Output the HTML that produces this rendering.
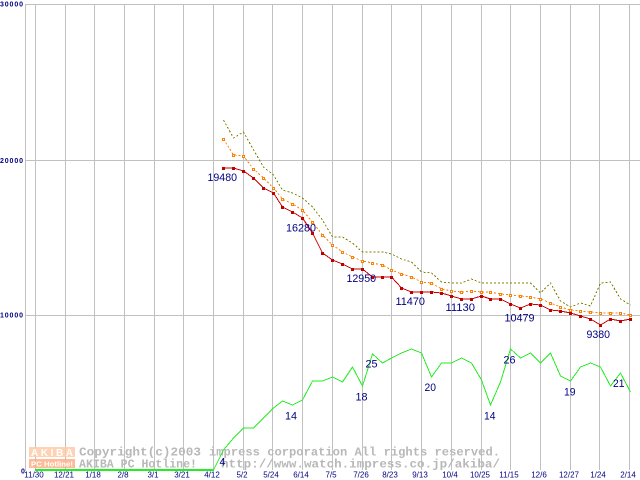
<!DOCTYPE html>
<html><head><meta charset="utf-8"><style>
html,body{margin:0;padding:0;background:#fff;width:640px;height:480px;overflow:hidden}
svg{display:block}
</style></head><body>
<svg width="640" height="480" viewBox="0 0 640 480" xmlns="http://www.w3.org/2000/svg" shape-rendering="crispEdges">
<rect width="640" height="480" fill="#fff"/>
<g stroke="#c0c0c0" stroke-width="1" fill="none">
<line x1="25" y1="4.5" x2="640" y2="4.5"/>
<line x1="25" y1="160.5" x2="640" y2="160.5"/>
<line x1="25" y1="315.5" x2="640" y2="315.5"/>
<line x1="25.5" y1="4" x2="25.5" y2="471"/>
<line x1="35.5" y1="4" x2="35.5" y2="470"/>
<line x1="65.5" y1="4" x2="65.5" y2="470"/>
<line x1="94.5" y1="4" x2="94.5" y2="470"/>
<line x1="124.5" y1="4" x2="124.5" y2="470"/>
<line x1="154.5" y1="4" x2="154.5" y2="470"/>
<line x1="183.5" y1="4" x2="183.5" y2="470"/>
<line x1="213.5" y1="4" x2="213.5" y2="470"/>
<line x1="243.5" y1="4" x2="243.5" y2="470"/>
<line x1="272.5" y1="4" x2="272.5" y2="470"/>
<line x1="302.5" y1="4" x2="302.5" y2="470"/>
<line x1="332.5" y1="4" x2="332.5" y2="470"/>
<line x1="362.5" y1="4" x2="362.5" y2="470"/>
<line x1="391.5" y1="4" x2="391.5" y2="470"/>
<line x1="421.5" y1="4" x2="421.5" y2="470"/>
<line x1="451.5" y1="4" x2="451.5" y2="470"/>
<line x1="481.5" y1="4" x2="481.5" y2="470"/>
<line x1="510.5" y1="4" x2="510.5" y2="470"/>
<line x1="540.5" y1="4" x2="540.5" y2="470"/>
<line x1="570.5" y1="4" x2="570.5" y2="470"/>
<line x1="599.5" y1="4" x2="599.5" y2="470"/>
<line x1="629.5" y1="4" x2="629.5" y2="470"/>
</g>

<!-- watermark -->
<g opacity="0.85">
<rect x="29" y="447" width="46" height="10" fill="#ffcba8"/>
<rect x="29" y="459" width="46" height="9" fill="#ffb088"/>
</g>
<text x="31" y="456" font-family="Liberation Sans, sans-serif" font-size="10" font-weight="bold" fill="#fff" textLength="42" lengthAdjust="spacing" shape-rendering="auto">AKIBA</text>
<text x="31" y="466.5" font-family="Liberation Sans, sans-serif" font-size="7" font-weight="bold" fill="#fff" textLength="42" lengthAdjust="spacingAndGlyphs">PC Hotline!</text>
<g font-family="Liberation Mono, monospace" font-size="12" font-weight="bold" fill="#b8b8b8">
<text x="79" y="455.5" textLength="122" lengthAdjust="spacingAndGlyphs">Copyright(c)2003</text>
<text x="209" y="455.5" textLength="291" lengthAdjust="spacingAndGlyphs">impress corporation All rights reserved.</text>
<text x="79" y="467.5" textLength="118" lengthAdjust="spacingAndGlyphs">AKIBA PC Hotline!</text>
<text x="221" y="467.5" textLength="279" lengthAdjust="spacingAndGlyphs">http://www.watch.impress.co.jp/akiba/</text>
</g>

<!-- green series -->
<rect x="35" y="469" width="179" height="2" fill="#22ee22"/>
<polyline fill="none" stroke="#22ee22" stroke-width="1" points="213.5,470 223.5,450 233.5,438 243.5,428 253.5,428 263.5,418 273.5,408 282.5,401 292.5,405 302.5,400 312.5,381 322.5,381 332.5,377 342.5,382 352.5,367 362.5,386 372.5,354 382.5,363 391.5,358 401.5,353 411.5,349 421.5,353 431.5,377 441.5,363 451.5,363 461.5,358 471.5,363 481.5,380 490.5,405 500.5,382 510.5,349 520.5,358 530.5,353 540.5,363 550.5,353 560.5,376 570.5,381 580.5,367 590.5,363 600.5,367 610.5,386 620.5,373 630.5,392"/>

<!-- olive dotted -->
<polyline fill="none" stroke="#808000" stroke-width="1" stroke-dasharray="2,2" points="223.5,120 233.5,138 243.5,132 253.5,150 263.5,167 273.5,175 282.5,190 292.5,193 302.5,198 312.5,207 322.5,220 332.5,237 342.5,237 352.5,243 362.5,252 372.5,252 382.5,252 391.5,254 401.5,259 411.5,262 421.5,272 431.5,273 441.5,282 451.5,283 461.5,283 471.5,279 481.5,283 490.5,283 500.5,283 510.5,283 520.5,283 530.5,283 540.5,293 550.5,283 560.5,301 570.5,307 580.5,303 590.5,306 600.5,283 610.5,282 620.5,299 630.5,305"/>

<!-- orange dashed -->
<polyline fill="none" stroke="#ff8000" stroke-width="1" stroke-dasharray="2,2" points="223.5,139 233.5,155 243.5,156 253.5,169 263.5,178 273.5,188 282.5,199 292.5,204 302.5,210 312.5,222 322.5,235 332.5,245 342.5,252 352.5,257 362.5,261 372.5,263 382.5,265 391.5,270 401.5,274 411.5,277 421.5,282 431.5,283 441.5,289 451.5,291 461.5,292 471.5,291 481.5,292 490.5,292 500.5,294 510.5,295 520.5,296 530.5,297 540.5,299 550.5,303 560.5,307 570.5,310 580.5,311 590.5,312 600.5,313 610.5,313 620.5,313 630.5,315"/>

<!-- red line -->
<polyline fill="none" stroke="#cc0000" stroke-width="1" points="223.5,168 233.5,168 243.5,171 253.5,178 263.5,188 273.5,193 282.5,207 292.5,212 302.5,218 312.5,233 322.5,253 332.5,260 342.5,264 352.5,269 362.5,269 372.5,277 382.5,277 391.5,277 401.5,288 411.5,292 421.5,292 431.5,292 441.5,293 451.5,296 461.5,299 471.5,299 481.5,296 490.5,299 500.5,299 510.5,304 520.5,308 530.5,304 540.5,305 550.5,310 560.5,311 570.5,313 580.5,316 590.5,319 600.5,325 610.5,319 620.5,321 630.5,319"/>

<!-- orange markers -->
<g fill="#fff" stroke="#ff8000" stroke-width="1">
<rect x="222.5" y="138.5" width="2" height="2"/><rect x="232.5" y="154.5" width="2" height="2"/><rect x="242.5" y="155.5" width="2" height="2"/><rect x="252.5" y="168.5" width="2" height="2"/><rect x="262.5" y="177.5" width="2" height="2"/><rect x="272.5" y="187.5" width="2" height="2"/><rect x="281.5" y="198.5" width="2" height="2"/><rect x="291.5" y="203.5" width="2" height="2"/><rect x="301.5" y="209.5" width="2" height="2"/><rect x="311.5" y="221.5" width="2" height="2"/><rect x="321.5" y="234.5" width="2" height="2"/><rect x="331.5" y="244.5" width="2" height="2"/><rect x="341.5" y="251.5" width="2" height="2"/><rect x="351.5" y="256.5" width="2" height="2"/><rect x="361.5" y="260.5" width="2" height="2"/><rect x="371.5" y="262.5" width="2" height="2"/><rect x="381.5" y="264.5" width="2" height="2"/><rect x="390.5" y="269.5" width="2" height="2"/><rect x="400.5" y="273.5" width="2" height="2"/><rect x="410.5" y="276.5" width="2" height="2"/><rect x="420.5" y="281.5" width="2" height="2"/><rect x="430.5" y="282.5" width="2" height="2"/><rect x="440.5" y="288.5" width="2" height="2"/><rect x="450.5" y="290.5" width="2" height="2"/><rect x="460.5" y="291.5" width="2" height="2"/><rect x="470.5" y="290.5" width="2" height="2"/><rect x="480.5" y="291.5" width="2" height="2"/><rect x="489.5" y="291.5" width="2" height="2"/><rect x="499.5" y="293.5" width="2" height="2"/><rect x="509.5" y="294.5" width="2" height="2"/><rect x="519.5" y="295.5" width="2" height="2"/><rect x="529.5" y="296.5" width="2" height="2"/><rect x="539.5" y="298.5" width="2" height="2"/><rect x="549.5" y="302.5" width="2" height="2"/><rect x="559.5" y="306.5" width="2" height="2"/><rect x="569.5" y="309.5" width="2" height="2"/><rect x="579.5" y="310.5" width="2" height="2"/><rect x="589.5" y="311.5" width="2" height="2"/><rect x="599.5" y="312.5" width="2" height="2"/><rect x="609.5" y="312.5" width="2" height="2"/><rect x="619.5" y="312.5" width="2" height="2"/><rect x="629.5" y="314.5" width="2" height="2"/>
</g>

<!-- red markers -->
<g fill="#c00000">
<rect x="222" y="167" width="3" height="3"/><rect x="232" y="167" width="3" height="3"/><rect x="242" y="170" width="3" height="3"/><rect x="252" y="177" width="3" height="3"/><rect x="262" y="187" width="3" height="3"/><rect x="272" y="192" width="3" height="3"/><rect x="281" y="206" width="3" height="3"/><rect x="291" y="211" width="3" height="3"/><rect x="301" y="217" width="3" height="3"/><rect x="311" y="232" width="3" height="3"/><rect x="321" y="252" width="3" height="3"/><rect x="331" y="259" width="3" height="3"/><rect x="341" y="263" width="3" height="3"/><rect x="351" y="268" width="3" height="3"/><rect x="361" y="268" width="3" height="3"/><rect x="371" y="276" width="3" height="3"/><rect x="381" y="276" width="3" height="3"/><rect x="390" y="276" width="3" height="3"/><rect x="400" y="287" width="3" height="3"/><rect x="410" y="291" width="3" height="3"/><rect x="420" y="291" width="3" height="3"/><rect x="430" y="291" width="3" height="3"/><rect x="440" y="292" width="3" height="3"/><rect x="450" y="295" width="3" height="3"/><rect x="460" y="298" width="3" height="3"/><rect x="470" y="298" width="3" height="3"/><rect x="480" y="295" width="3" height="3"/><rect x="489" y="298" width="3" height="3"/><rect x="499" y="298" width="3" height="3"/><rect x="509" y="303" width="3" height="3"/><rect x="519" y="307" width="3" height="3"/><rect x="529" y="303" width="3" height="3"/><rect x="539" y="304" width="3" height="3"/><rect x="549" y="309" width="3" height="3"/><rect x="559" y="310" width="3" height="3"/><rect x="569" y="312" width="3" height="3"/><rect x="579" y="315" width="3" height="3"/><rect x="589" y="318" width="3" height="3"/><rect x="599" y="324" width="3" height="3"/><rect x="609" y="318" width="3" height="3"/><rect x="619" y="320" width="3" height="3"/><rect x="629" y="318" width="3" height="3"/>
</g>

<!-- value labels -->
<g font-family="Liberation Sans, sans-serif" font-size="11" fill="#000080">
<text x="207.5" y="181" textLength="29.5" lengthAdjust="spacingAndGlyphs">19480</text>
<text x="286" y="231.5" textLength="30" lengthAdjust="spacingAndGlyphs">16280</text>
<text x="346.5" y="282" textLength="29.5" lengthAdjust="spacingAndGlyphs">12950</text>
<text x="395.5" y="305" textLength="29.5" lengthAdjust="spacingAndGlyphs">11470</text>
<text x="445.5" y="311" textLength="29.5" lengthAdjust="spacingAndGlyphs">11130</text>
<text x="504.5" y="321.5" textLength="30" lengthAdjust="spacingAndGlyphs">10479</text>
<text x="586.5" y="338" textLength="23.5" lengthAdjust="spacingAndGlyphs">9380</text>
<text x="219.5" y="465.5" textLength="6" lengthAdjust="spacingAndGlyphs">4</text>
<text x="285" y="419.5" textLength="12" lengthAdjust="spacingAndGlyphs">14</text>
<text x="355.5" y="400.5" textLength="12" lengthAdjust="spacingAndGlyphs">18</text>
<text x="365.5" y="367.5" textLength="12" lengthAdjust="spacingAndGlyphs">25</text>
<text x="424.5" y="391" textLength="11.5" lengthAdjust="spacingAndGlyphs">20</text>
<text x="484" y="419.5" textLength="11.5" lengthAdjust="spacingAndGlyphs">14</text>
<text x="503.5" y="363.5" textLength="12" lengthAdjust="spacingAndGlyphs">26</text>
<text x="564" y="395.5" textLength="11.5" lengthAdjust="spacingAndGlyphs">19</text>
<text x="613" y="387" textLength="11.5" lengthAdjust="spacingAndGlyphs">21</text>
</g>

<!-- y axis labels -->
<g font-family="Liberation Sans, sans-serif" font-size="7" font-weight="bold" fill="#000080">
<text x="0" y="6.5" textLength="23" lengthAdjust="spacing">30000</text>
<text x="0" y="163" textLength="23" lengthAdjust="spacing">20000</text>
<text x="0" y="317.5" textLength="23" lengthAdjust="spacing">10000</text>
<text x="21" y="473.5">0</text>
</g>

<!-- x axis labels -->
<g font-family="Liberation Sans, sans-serif" font-size="8" fill="#000080" text-anchor="middle">
<text x="34" y="477.5">11/30</text>
<text x="64" y="477.5">12/21</text>
<text x="93" y="477.5">1/18</text>
<text x="123" y="477.5">2/8</text>
<text x="153" y="477.5">3/1</text>
<text x="182" y="477.5">3/21</text>
<text x="212" y="477.5">4/12</text>
<text x="242" y="477.5">5/2</text>
<text x="271" y="477.5">5/24</text>
<text x="301" y="477.5">6/14</text>
<text x="331" y="477.5">7/5</text>
<text x="361" y="477.5">7/26</text>
<text x="390" y="477.5">8/23</text>
<text x="420" y="477.5">9/13</text>
<text x="450" y="477.5">10/4</text>
<text x="480" y="477.5">10/25</text>
<text x="509" y="477.5">11/15</text>
<text x="539" y="477.5">12/6</text>
<text x="569" y="477.5">12/27</text>
<text x="598" y="477.5">1/24</text>
<text x="628" y="477.5">2/14</text>
</g>
</svg>
</body></html>
